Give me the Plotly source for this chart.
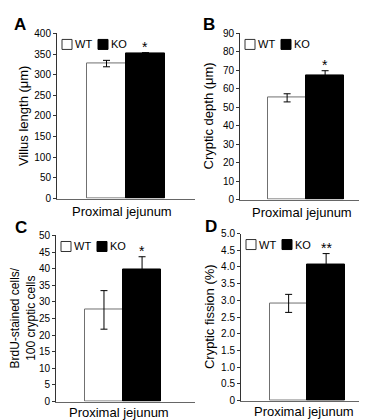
import plotly.graph_objects as go

# ---- data ----
panels = ["A", "B", "C", "D"]
groups = ["WT", "KO"]
wt_means = [327, 55.1, 27.6, 2.91]
wt_errs = [7.8, 2.2, 5.8, 0.27]
ko_means = [351, 67.5, 39.9, 4.08]
ko_errs = [2.5, 2.3, 3.7, 0.32]
sig_marks = ["*", "*", "*", "**"]
y_titles = ["Villus length (μm)", "Cryptic depth (μm)",
            "BrdU-stained cells/<br>100 cryptic cells", "Cryptic fission (%)"]
x_label = "Proximal jejunum"
tick_vals = [
    [0, 50, 100, 150, 200, 250, 300, 350, 400],
    [0, 10, 20, 30, 40, 50, 60, 70, 80, 90],
    [0, 5, 10, 15, 20, 25, 30, 35, 40, 45, 50],
    [0, 0.5, 1.0, 1.5, 2.0, 2.5, 3.0, 3.5, 4.0, 4.5, 5.0],
]
tick_texts = [
    ["0", "50", "100", "150", "200", "250", "300", "350", "400"],
    ["0", "10", "20", "30", "40", "50", "60", "70", "80", "90"],
    ["0", "5", "10", "15", "20", "25", "30", "35", "40", "45", "50"],
    ["0", "0.5", "1.0", "1.5", "2.0", "2.5", "3.0", "3.5", "4.0", "4.5", "5.0"],
]
y_max = [400, 90, 50, 5.0]

# ---- layout geometry ----
W, H = 367, 420
x_domains = [[49 / W, 187 / W], [232 / W, 365 / W], [48 / W, 187 / W], [233 / W, 365 / W]]
y_domains = [[1 - 190 / H, 1 - 20 / H], [1 - 191 / H, 1 - 20 / H],
             [1 - 399 / H, 1 - 228 / H], [1 - 398 / H, 1 - 226 / H]]
x_ranges = [[-1.27, 2.27], [-1.24, 2.26], [-1.26, 2.39], [-1.27, 2.25]]
ytitle_x = [15, 200, 15, 201]
ytitle_size = [13, 13, 12, 13]
xlabel_shift = [-3, -3, -1, -1]
letter_pos = [(12, 11), (201, 11), (13, 220), (203, 219)]
font_family = "Liberation Sans, Arial, Helvetica, sans-serif"

fig = go.Figure()
layout = dict(width=W, height=H, margin=dict(l=0, r=0, t=0, b=0),
              paper_bgcolor="white", plot_bgcolor="white", showlegend=False,
              font=dict(family=font_family, color="black"),
              bargap=0)
annotations = []
shapes = []

for i, p in enumerate(panels):
    sfx = "" if i == 0 else str(i + 1)
    xa, ya = "x" + sfx, "y" + sfx
    fig.add_trace(go.Bar(
        x=[0, 1], y=[wt_means[i], ko_means[i]], width=[1, 1],
        marker=dict(color=["white", "black"], line=dict(color=["#707070", "black"], width=1)),
        error_y=dict(type="data", array=[wt_errs[i], ko_errs[i]], color="black",
                     thickness=1, width=3.5),
        xaxis=xa, yaxis=ya, hoverinfo="skip"))
    layout["xaxis" + sfx] = dict(domain=x_domains[i], range=x_ranges[i], anchor=ya,
                                 showline=True, linecolor="#666", linewidth=1,
                                 showticklabels=False, ticks="", showgrid=False,
                                 zeroline=False, fixedrange=True)
    layout["yaxis" + sfx] = dict(domain=y_domains[i], range=[0, y_max[i]], anchor=xa,
                                 showline=True, linecolor="#333", linewidth=1,
                                 tickvals=tick_vals[i], ticktext=tick_texts[i],
                                 ticks="outside", ticklen=3, tickcolor="#333",
                                 tickfont=dict(size=10, color="black"),
                                 showgrid=False, zeroline=False, fixedrange=True)
    dom_x, dom_y = xa + " domain", ya + " domain"
    # legend boxes
    shapes.append(dict(type="rect", xref=dom_x, yref=dom_y, xsizemode="pixel",
                       ysizemode="pixel", xanchor=0, yanchor=1,
                       x0=5, x1=15, y0=-6, y1=-16,
                       line=dict(color="#333", width=1), fillcolor="white"))
    shapes.append(dict(type="rect", xref=dom_x, yref=dom_y, xsizemode="pixel",
                       ysizemode="pixel", xanchor=0, yanchor=1,
                       x0=41, x1=51, y0=-6, y1=-16,
                       line=dict(color="black", width=1), fillcolor="black"))
    annotations.append(dict(xref=dom_x, yref=dom_y, x=0, y=1, xshift=16, yshift=-11,
                            xanchor="left", yanchor="middle", showarrow=False,
                            text=groups[0], font=dict(size=11)))
    annotations.append(dict(xref=dom_x, yref=dom_y, x=0, y=1, xshift=52, yshift=-11,
                            xanchor="left", yanchor="middle", showarrow=False,
                            text=groups[1], font=dict(size=11)))
    # significance
    annotations.append(dict(xref=xa, yref=ya, x=1, y=ko_means[i] + ko_errs[i],
                            yanchor="bottom", yshift=-4, showarrow=False,
                            text=sig_marks[i], font=dict(size=14)))
    # x label
    annotations.append(dict(xref=xa, yref=dom_y, x=0.4, y=0, yshift=xlabel_shift[i],
                            yanchor="top", showarrow=False, text=x_label,
                            font=dict(size=13)))
    # y title
    annotations.append(dict(xref="paper", yref=dom_y, x=ytitle_x[i] / W, y=0.5,
                            xanchor="center", yanchor="middle", textangle=-90,
                            showarrow=False, text=y_titles[i],
                            font=dict(size=ytitle_size[i])))
    # panel letter
    lx, ly = letter_pos[i]
    annotations.append(dict(xref="paper", yref="paper", x=lx / W, y=1 - ly / H,
                            xanchor="center", yanchor="middle", showarrow=False,
                            text="<b>" + p + "</b>", font=dict(size=17)))

layout["annotations"] = annotations
layout["shapes"] = shapes
fig.update_layout(**layout)
fig.write_html("out.html")
